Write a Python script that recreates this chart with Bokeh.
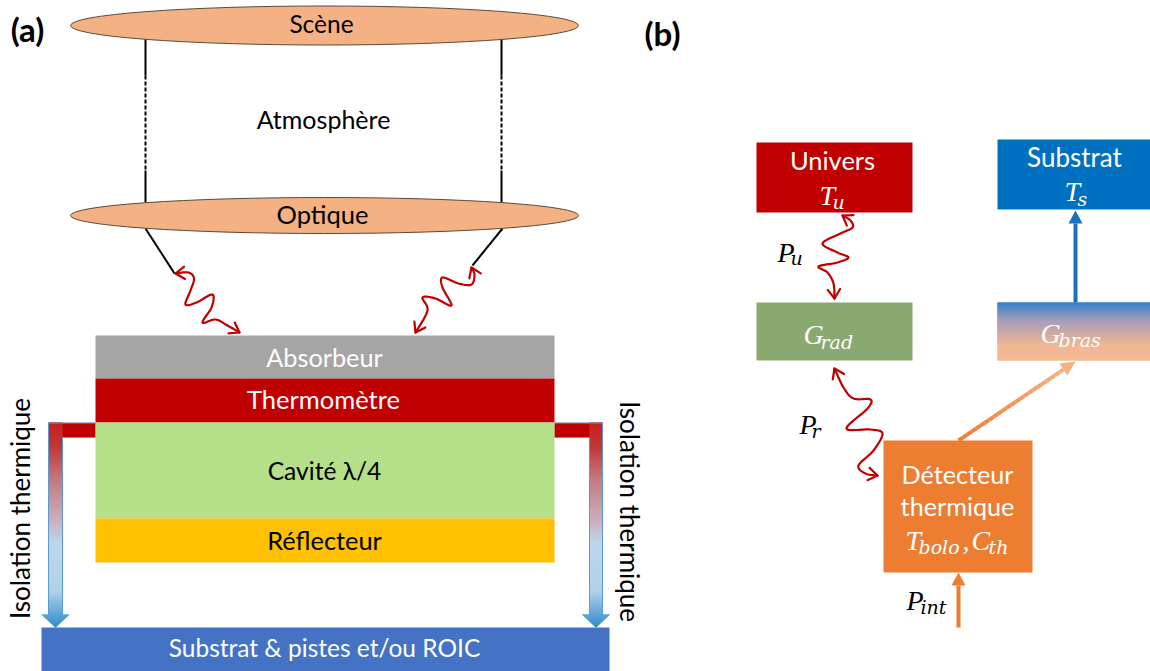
import math
from bokeh.plotting import figure
from bokeh.models import Range1d
from bokeh.core.properties import value
from bokeh.embed import file_html
from bokeh.resources import INLINE

FONT = "Lato"
MATH = "Liberation Serif"
MATH_SUB = "DejaVu Serif"

# ---- blocks: x0, x1, y0, y1 in picture coordinates
layer_left = [95, 95, 95, 95, 41, 756, 997, 756, 883]
layer_right = [554, 554, 554, 554, 609, 912, 1150, 912, 1032]
layer_top = [335, 378, 422, 518, 627, 142, 139, 302, 440]
layer_bottom = [378, 422, 518, 562, 671, 212, 209, 360, 572]
layer_colors = ["#a5a5a5", "#c00000", "#b5df88", "#ffc000", "#4472c4",
                "#c00000", "#0070c0", "#8aa971", "#ed7d31"]

# ---- ellipses
lens_x = [324, 324]
lens_y = [25, 215]
lens_w = [508, 508]
lens_h = [39, 36]

# ---- plain texts
label_text = ["(a)", "(b)", "Scène", "Atmosphère", "Optique", "Absorbeur", "Thermomètre",
              "Cavité λ/4", "Réflecteur", "Substrat & pistes et/ou ROIC",
              "Univers", "Substrat", "Détecteur", "thermique"]
label_x = [27, 662, 321, 323, 322, 324, 323, 324, 324, 324, 832, 1074, 957, 957]
label_y = [28, 32, 23, 118, 213, 356, 398, 470, 539, 647, 159, 156, 473, 505]
label_color = ["#000000", "#000000", "#000000", "#000000", "#000000", "#ffffff", "#ffffff",
               "#000000", "#000000", "#ffffff", "#ffffff", "#ffffff", "#ffffff", "#ffffff"]
label_size = ["33px", "33px", "24.5px", "25px", "25.5px", "25.3px", "25.5px",
              "24.6px", "25.4px", "24.5px", "25.5px", "26px", "25.2px", "25.2px"]
label_weight = ["bold", "bold"] + ["normal"] * 12

# ---- math texts (base letter, subscript)
math_base = ["T", "T", "G", "G", "P", "P", "T", ",", "C", "P"]
math_bx = [819, 1064, 803, 1040, 777, 799, 905, 962, 971, 906]
math_by = [195, 191, 334, 333, 252, 424, 540, 540, 540, 600]
math_sub = ["u", "s", "rad", "bras", "u", "r", "bolo", "", "th", "int"]
math_sx = [832, 1077, 820, 1058, 790, 811, 918, 0, 988, 920]
math_sy = [201, 198, 341, 339, 257, 430, 546, 546, 546, 606]
math_color = ["#ffffff", "#ffffff", "#ffffff", "#ffffff", "#000000", "#000000",
              "#ffffff", "#ffffff", "#ffffff", "#000000"]

# ---- wavy double-headed rays
wave_a1 = [(175, 273), (188, 272), (193.5, 278), (190, 290), (185, 304), (196, 302), (212, 294),
           (211, 307), (202, 322), (215, 319), (227, 325), (239, 332)]
wave_a2 = [(415, 332), (427, 310), (422, 297), (435, 298), (451, 305), (442, 287),
           (442, 277), (458, 283), (471, 284), (474, 274), (471, 267)]
wave_pu = [(842, 215), (850, 220), (852, 227), (840, 233), (822, 243), (837, 252), (848, 257),
           (837, 262), (818, 266), (827, 272), (833, 283), (834, 298)]
wave_pr = [(834, 368), (843, 387), (853, 398), (870, 399), (867, 408), (846, 428), (870, 429),
           (882, 433), (873, 450), (858, 465), (865, 473), (877, 475)]

# ---- gradient stops (y position, colour)
leg_stops = [(422, "#c00000"), (445, "#b81a1a"), (480, "#bb6a72"), (520, "#c3a5b5"),
             (542, "#b4d0ea"), (590, "#a6cbe8"), (627, "#0f7cc4")]
gbras_stops = [(302, "#1a6fc0"), (320, "#9a90b0"), (345, "#f0ad84"), (360, "#f4b183")]


def hex2rgb(c):
    return tuple(int(c[i:i + 2], 16) for i in (1, 3, 5))


def mix(c0, c1, t):
    a, b = hex2rgb(c0), hex2rgb(c1)
    return "#%02x%02x%02x" % tuple(round(a[i] + (b[i] - a[i]) * t) for i in range(3))


def stop_color(stops, y):
    for (y0, c0), (y1, c1) in zip(stops, stops[1:]):
        if y <= y1:
            return mix(c0, c1, max(0, (y - y0) / (y1 - y0)))
    return stops[-1][1]


def smooth(pts, n=10):
    P = [pts[0]] + pts + [pts[-1]]
    xs, ys = [], []
    for i in range(1, len(P) - 2):
        for k in range(n):
            t = k / n
            f = lambda a, b, c, d: 0.5 * (2 * b + (c - a) * t + (2 * a - 5 * b + 4 * c - d) * t * t
                                          + (3 * b - a - 3 * c + d) * t ** 3)
            xs.append(f(P[i - 1][0], P[i][0], P[i + 1][0], P[i + 2][0]))
            ys.append(f(P[i - 1][1], P[i][1], P[i + 1][1], P[i + 2][1]))
    xs.append(pts[-1][0])
    ys.append(pts[-1][1])
    return xs, ys


p = figure(width=1150, height=671, output_backend="svg", toolbar_location=None,
           x_range=Range1d(0, 1150), y_range=Range1d(671, 0), min_border=0)
p.axis.visible = False
p.grid.visible = False
p.outline_line_color = None
p.background_fill_color = "#ffffff"


# thermal isolation legs
def leg(x_out, x_in, x_box, tip, hw):
    ys = list(range(422, 614))
    left, right = min(x_out, x_in), max(x_out, x_in)
    cols = [stop_color(leg_stops, y) for y in ys]
    p.quad(left=left, right=right, top=ys, bottom=[y + 1 for y in ys], fill_color=cols, line_color=cols, line_width=0.3)
    p.quad(left=min(x_in, x_box), right=max(x_in, x_box), top=422.5, bottom=437, fill_color="#c00000", line_color="#c00000", line_width=0.3)
    ys2 = list(range(614, 627))
    for y in ys2:
        w = hw * (627 - y) / 13
        w2 = hw * (627 - y - 1) / 13
        c = stop_color(leg_stops, y)
        p.patch([tip - w, tip + w, tip + w2, tip - w2], [y, y, y + 1, y + 1], fill_color=c, line_color=c, line_width=0.3)
    p.line([x_box, x_out, x_out], [422.5, 422.5, 614], line_color="#5b9bd5", line_width=1)
    p.line([x_box, x_in, x_in], [437, 437, 614], line_color="#5b9bd5", line_width=1)


leg(48, 62, 95, 55, 14)
leg(602, 589, 554, 595.5, 14)

# blocks
p.quad(left=layer_left, right=layer_right, top=layer_top, bottom=layer_bottom,
       fill_color=layer_colors, line_color=None)

# Gbras gradient
ys = list(range(302, 360))
cols = [stop_color(gbras_stops, y) for y in ys]
p.quad(left=997, right=1150, top=ys, bottom=[y + 1 for y in ys], fill_color=cols, line_color=cols, line_width=0.3)

# optical beam lines
for x in (145, 501):
    p.line([x, x], [38, 75], line_color="#000000", line_width=2)
    p.line([x, x], [75, 170], line_color="#000000", line_width=2, line_dash="4 2")
    p.line([x, x], [170, 202], line_color="#000000", line_width=2)
p.line([145, 174], [228, 273], line_color="#000000", line_width=2)
p.line([502, 472], [228, 265], line_color="#000000", line_width=2)

p.ellipse(x=lens_x, y=lens_y, width=lens_w, height=lens_h, fill_color="#f4b183",
          line_color="#5c4a3a", line_width=1)


def head(tip, frm, size=11, spread=0.6):
    a = math.atan2(frm[1] - tip[1], frm[0] - tip[0])
    for s in (-spread, spread):
        p.line([tip[0], tip[0] + size * math.cos(a + s)], [tip[1], tip[1] + size * math.sin(a + s)],
               line_color="#c00000", line_width=2.2, line_cap="round")


for w in (wave_a1, wave_a2, wave_pu, wave_pr):
    xs, ys_ = smooth(w)
    p.line(xs, ys_, line_color="#c00000", line_width=2.2, line_join="round")
    head(w[0], w[1])
    head(w[-1], w[-2])

# straight arrows
p.line([1075, 1075], [302, 223], line_color="#1a6fc0", line_width=4)
p.patch([1068, 1082, 1075], [223, 223, 210], fill_color="#1a6fc0", line_color=None)
p.line([958, 958], [627, 585], line_color="#ed7d31", line_width=4)
p.patch([951, 965, 958], [585, 585, 572], fill_color="#ed7d31", line_color=None)

sx, sy, ex, ey = 958, 440, 1063, 369
n = 24
p.multi_line([[sx + (ex - sx) * i / n, sx + (ex - sx) * (i + 1) / n] for i in range(n)],
             [[sy + (ey - sy) * i / n, sy + (ey - sy) * (i + 1) / n] for i in range(n)],
             line_color=[mix("#ed7d31", "#f4b183", i / n) for i in range(n)], line_width=4)
p.patch([1075, 1059, 1067], [361, 363, 375], fill_color="#f4b183", line_color=None)

# labels
for t, x, y, c, s, w in zip(label_text, label_x, label_y, label_color, label_size, label_weight):
    p.text(x=[x], y=[y], text=[t], text_color=c, text_font=value(FONT), text_font_size=s,
           text_font_style=w, text_align="center", text_baseline="middle")

p.text(x=[19], y=[508], text=["Isolation thermique"], angle=math.pi / 2, text_color="#000000",
       text_font=value(FONT), text_font_size="26px", text_align="center", text_baseline="middle")
p.text(x=[629], y=[511], text=["Isolation thermique"], angle=-math.pi / 2, text_color="#000000",
       text_font=value(FONT), text_font_size="26px", text_align="center", text_baseline="middle")

for b, bx, by, sb, sx_, sy_, c in zip(math_base, math_bx, math_by, math_sub, math_sx, math_sy, math_color):
    p.text(x=[bx], y=[by], text=[b], text_color=c, text_font=value(MATH), text_font_size="28px",
           text_font_style="italic", text_align="left", text_baseline="alphabetic")
    if sb:
        p.text(x=[sx_], y=[sy_], text=[sb], text_color=c, text_font=value(MATH_SUB), text_font_size="19px",
               text_font_style="italic", text_align="left", text_baseline="alphabetic")

open("out.html", "w").write(file_html(p, INLINE))
